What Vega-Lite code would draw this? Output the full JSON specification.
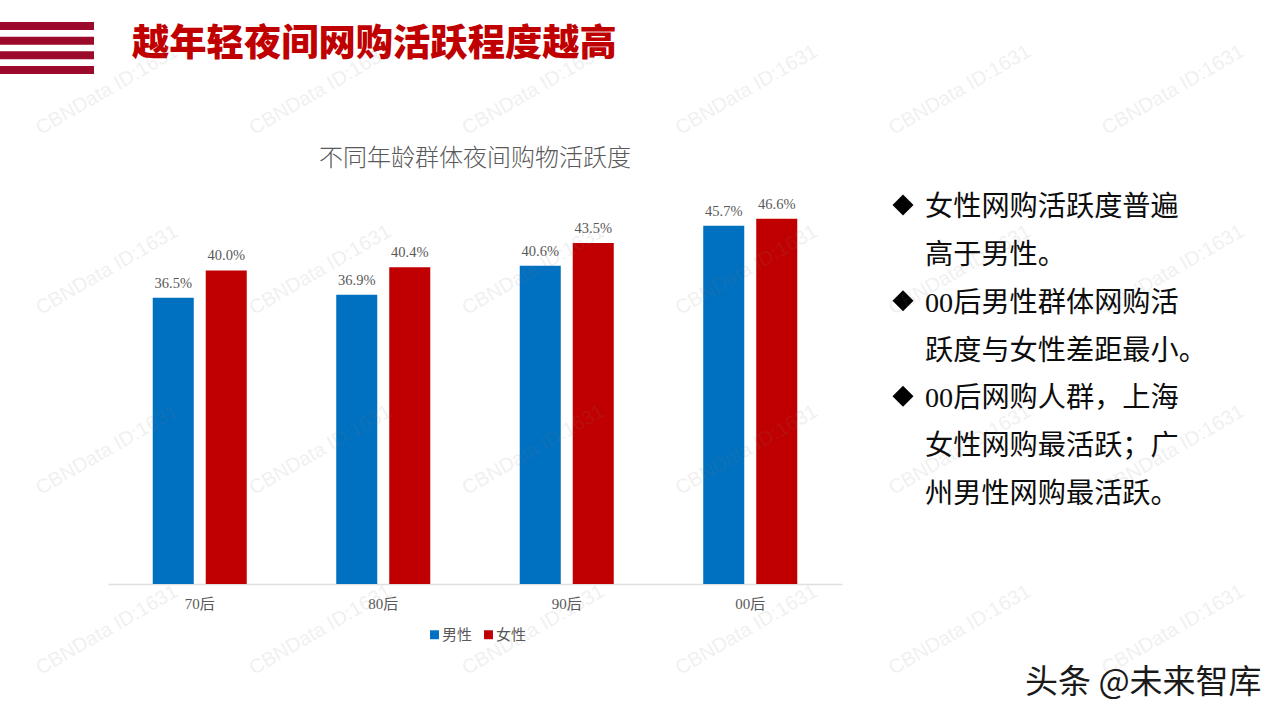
{
  "$schema": "https://vega.github.io/schema/vega-lite/v6.json",
  "background": "white",
  "width": 734,
  "height": 392,
  "autosize": "none",
  "padding": { "left": 108, "top": 192, "right": 438, "bottom": 136 },
  "config": {
    "view": { "stroke": null },
    "font": "Noto Sans CJK SC"
  },
  "datasets": {
    "active": [
      { "age": "70后", "sex": "男性", "rate": 0.365 },
      { "age": "70后", "sex": "女性", "rate": 0.400 },
      { "age": "80后", "sex": "男性", "rate": 0.369 },
      { "age": "80后", "sex": "女性", "rate": 0.404 },
      { "age": "90后", "sex": "男性", "rate": 0.406 },
      { "age": "90后", "sex": "女性", "rate": 0.435 },
      { "age": "00后", "sex": "男性", "rate": 0.457 },
      { "age": "00后", "sex": "女性", "rate": 0.466 }
    ],
    "notes": [
      { "line": 1, "text": "女性网购活跃度普遍" },
      { "line": 2, "text": "高于男性。" },
      { "line": 3, "text": "00后男性群体网购活" },
      { "line": 4, "text": "跃度与女性差距最小。" },
      { "line": 5, "text": "00后网购人群，上海" },
      { "line": 6, "text": "女性网购最活跃；广" },
      { "line": 7, "text": "州男性网购最活跃。" }
    ],
    "bullets": [
      { "line": 1 },
      { "line": 3 },
      { "line": 5 }
    ],
    "stripes": [
      { "stripe": 1 },
      { "stripe": 2 },
      { "stripe": 3 },
      { "stripe": 4 }
    ],
    "marks": [
      { "col": 1, "row": 1 }, { "col": 2, "row": 1 }, { "col": 3, "row": 1 }, { "col": 4, "row": 1 }, { "col": 5, "row": 1 }, { "col": 6, "row": 1 },
      { "col": 1, "row": 2 }, { "col": 2, "row": 2 }, { "col": 3, "row": 2 }, { "col": 4, "row": 2 }, { "col": 5, "row": 2 }, { "col": 6, "row": 2 },
      { "col": 1, "row": 3 }, { "col": 2, "row": 3 }, { "col": 3, "row": 3 }, { "col": 4, "row": 3 }, { "col": 5, "row": 3 }, { "col": 6, "row": 3 },
      { "col": 1, "row": 4 }, { "col": 2, "row": 4 }, { "col": 3, "row": 4 }, { "col": 4, "row": 4 }, { "col": 5, "row": 4 }, { "col": 6, "row": 4 }
    ]
  },
  "layer": [
    {
      "data": { "name": "active" },
      "encoding": {
        "x": {
          "field": "age",
          "type": "nominal",
          "sort": ["70后", "80后", "90后", "00后"],
          "title": null,
          "scale": { "paddingInner": 0, "paddingOuter": 0 },
          "axis": {
            "labelAngle": 0,
            "labelFont": "Liberation Serif, Noto Sans CJK SC",
            "labelFontSize": 15,
            "labelColor": "#595959",
            "labelPadding": 12,
            "ticks": false,
            "domainColor": "#e0e0e0",
            "domainWidth": 1.5
          }
        },
        "xOffset": {
          "field": "sex",
          "type": "nominal",
          "sort": ["男性", "女性"],
          "scale": { "paddingInner": 0.226, "paddingOuter": 0.844 }
        },
        "y": {
          "field": "rate",
          "type": "quantitative",
          "axis": null,
          "scale": { "domain": [0, 0.5] }
        }
      },
      "layer": [
        {
          "mark": { "type": "bar" },
          "encoding": {
            "color": {
              "field": "sex",
              "type": "nominal",
              "sort": ["男性", "女性"],
              "scale": { "domain": ["男性", "女性"], "range": ["#0070c0", "#c00000"] },
              "legend": {
                "title": null,
                "orient": "none",
                "direction": "horizontal",
                "legendX": 319,
                "legendY": 435,
                "symbolType": "square",
                "symbolSize": 80,
                "symbolStrokeWidth": 0,
                "labelFont": "Noto Sans CJK SC",
                "labelFontSize": 15,
                "labelColor": "#595959",
                "labelOffset": 0,
                "columnPadding": 8
              }
            }
          }
        },
        {
          "mark": {
            "type": "text",
            "baseline": "bottom",
            "dy": -7,
            "font": "Liberation Serif",
            "fontSize": 14.5,
            "color": "#595959"
          },
          "encoding": {
            "text": { "field": "rate", "type": "quantitative", "format": ".1%" }
          }
        }
      ]
    },
    {
      "data": { "values": [{ "chartTitle": "不同年龄群体夜间购物活跃度" }] },
      "mark": {
        "type": "text",
        "align": "center",
        "baseline": "middle",
        "x": 367,
        "y": -33,
        "font": "Noto Sans CJK SC",
        "fontSize": 24,
        "fontWeight": 300,
        "color": "#595959"
      },
      "encoding": { "text": { "field": "chartTitle" } }
    },
    {
      "data": { "name": "notes" },
      "mark": {
        "type": "text",
        "align": "left",
        "baseline": "middle",
        "x": 817,
        "font": "Liberation Serif, Noto Sans CJK SC",
        "fontSize": 28.2,
        "color": "#0d0d0d"
      },
      "encoding": {
        "y": {
          "field": "line",
          "type": "ordinal",
          "axis": null,
          "scale": { "domain": [1, 2, 3, 4, 5, 6, 7], "range": [16, 303], "padding": 0 }
        },
        "text": { "field": "text" }
      }
    },
    {
      "data": { "name": "bullets" },
      "mark": {
        "type": "point",
        "shape": "diamond",
        "filled": true,
        "x": 795,
        "size": 440,
        "color": "#000000",
        "opacity": 1
      },
      "encoding": {
        "y": {
          "field": "line",
          "type": "ordinal",
          "axis": null,
          "scale": { "domain": [1, 2, 3, 4, 5, 6, 7], "range": [13, 300], "padding": 0 }
        }
      }
    },
    {
      "data": { "name": "stripes" },
      "mark": {
        "type": "rule",
        "x": -108,
        "x2": -14,
        "strokeWidth": 8,
        "color": "#9b0a2b"
      },
      "encoding": {
        "y": {
          "field": "stripe",
          "type": "ordinal",
          "axis": null,
          "scale": { "type": "point", "domain": [1, 2, 3, 4], "range": [-166, -122], "padding": 0 }
        }
      }
    },
    {
      "data": { "values": [{ "headline": "越年轻夜间网购活跃程度越高" }] },
      "mark": {
        "type": "text",
        "align": "left",
        "baseline": "middle",
        "x": 24,
        "y": -147,
        "font": "Noto Sans CJK SC",
        "fontSize": 37.3,
        "fontWeight": 900,
        "color": "#c00000"
      },
      "encoding": { "text": { "field": "headline" } }
    },
    {
      "data": { "values": [{ "credit": "头条 @未来智库" }] },
      "mark": {
        "type": "text",
        "align": "left",
        "baseline": "middle",
        "x": 917,
        "y": 491,
        "font": "Noto Sans CJK SC",
        "fontSize": 33,
        "fontWeight": 400,
        "color": "#1a1a1a"
      },
      "encoding": { "text": { "field": "credit" } }
    },
    {
      "data": { "name": "marks" },
      "mark": {
        "type": "text",
        "text": "CBNData ID:1631",
        "angle": -30,
        "align": "center",
        "baseline": "middle",
        "font": "Liberation Sans",
        "fontSize": 20,
        "color": "#808080",
        "opacity": 0.11
      },
      "encoding": {
        "x": {
          "field": "col",
          "type": "ordinal",
          "axis": null,
          "scale": { "domain": [1, 2, 3, 4, 5, 6], "range": [-1, 1065], "padding": 0 }
        },
        "y": {
          "field": "row",
          "type": "ordinal",
          "axis": null,
          "scale": { "domain": [1, 2, 3, 4], "range": [-102, 438], "padding": 0 }
        }
      }
    }
  ],
  "resolve": { "scale": { "x": "independent", "y": "independent" } }
}
